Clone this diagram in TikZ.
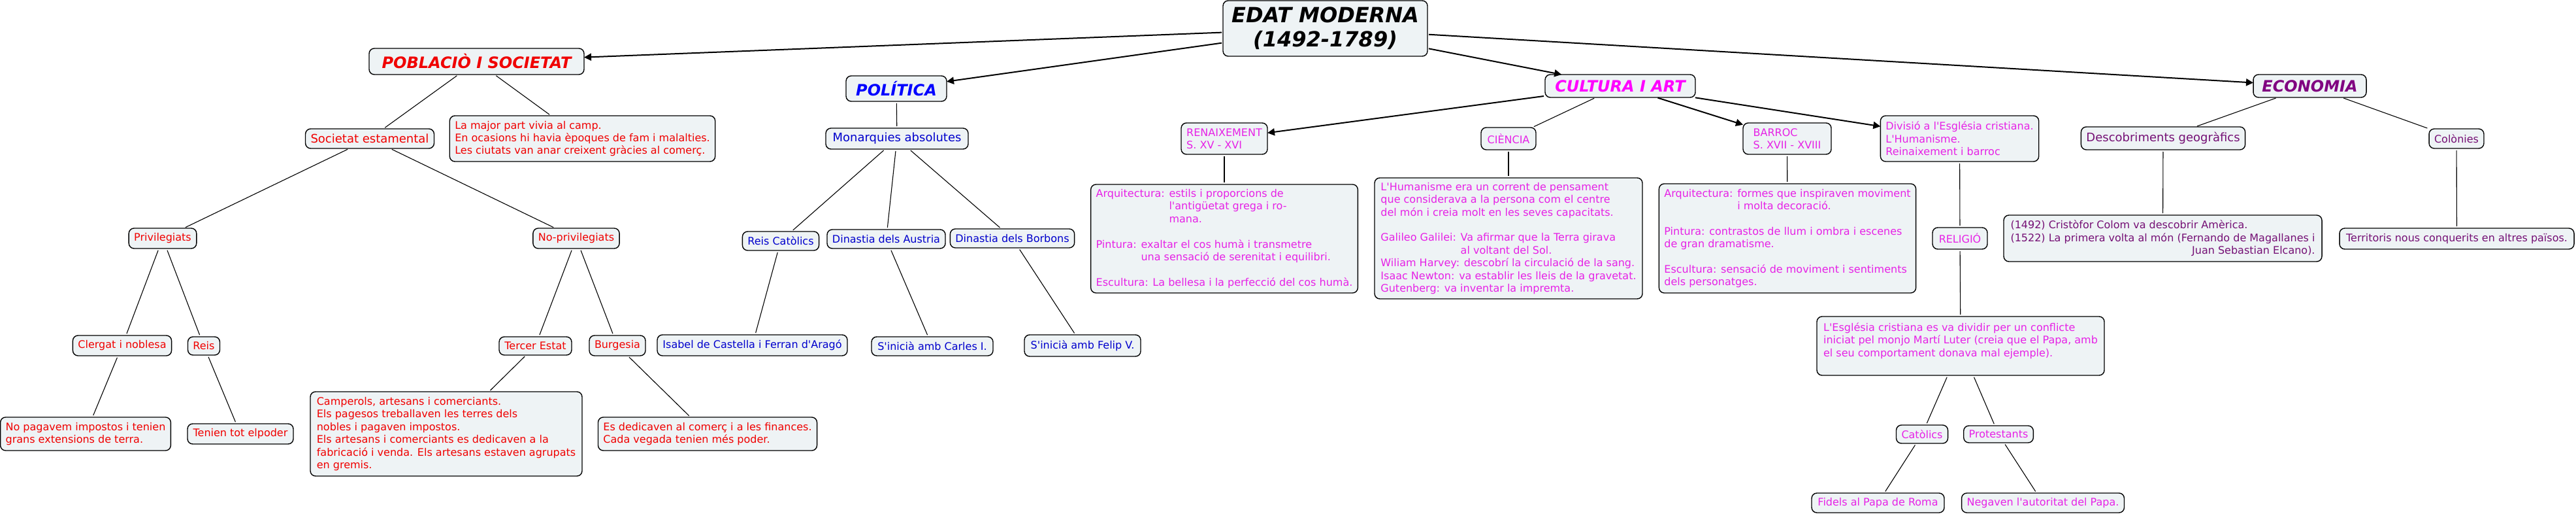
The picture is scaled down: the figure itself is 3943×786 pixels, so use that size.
\documentclass[tikz,border=0pt]{standalone}
\usepackage{fontspec}
\setmainfont{DejaVu Sans}[Ligatures=TeXOff]
\usetikzlibrary{arrows.meta}
\definecolor{boxfill}{HTML}{EEF3F5}
\definecolor{cred}{HTML}{F00000}
\definecolor{cblue}{HTML}{0000FF}
\definecolor{cblue2}{HTML}{0000CC}
\definecolor{cmag}{HTML}{FF00FF}
\definecolor{cmag2}{HTML}{E622E6}
\definecolor{cpur}{HTML}{800080}
\definecolor{cpur2}{HTML}{751075}
\begin{document}
\begin{tikzpicture}[x=0.5pt,y=-0.5pt,
 box/.style={draw=black,line width=0.7pt,fill=boxfill,rounded corners=4pt,inner xsep=4pt,inner ysep=0pt,outer sep=0pt},
 lab/.style={box,font=\fontsize{8}{9.7}\selectfont,align=center},
 biglab/.style={box,font=\fontsize{9}{11}\selectfont,align=center},
 para/.style={box,font=\fontsize{8}{9.7}\selectfont,align=left},
 ttl/.style={box,font=\fontsize{12}{14}\selectfont\bfseries\itshape},
 link/.style={line width=0.55pt,shorten <=1.5pt,shorten >=1.5pt},
 arr/.style={line width=1pt,shorten <=1pt,-{Triangle[length=5.5pt,width=5.5pt]}},
 sz/.style 2 args={minimum width=#1pt,minimum height=#2pt},
]
\fill[white] (0,0) rectangle (3943,786);
\useasboundingbox (0,0) rectangle (3943,786);

% titles
\node[ttl,sz={156.5}{42.5},font=\fontsize{16}{18.5}\selectfont\bfseries\itshape,align=center] (edat) at (2028.5,43.5) {EDAT MODERNA\\(1492-1789)};
\node[ttl,sz={164.5}{20},text=cred] (pob) at (729.5,94) {POBLACIÒ I SOCIETAT};
\node[ttl,sz={77}{19.5},text=cblue] (pol) at (1372,135.5) {POLÍTICA};
\node[ttl,sz={115}{17.5},text=cmag] (cult) at (2480,131.5) {CULTURA I ART};
\node[ttl,sz={86.5}{17.5},text=cpur] (eco) at (3535.5,131.5) {ECONOMIA};

% poblacio
\node[biglab,sz={98}{15},text=cred] (soc) at (566,212) {Societat estamental};
\node[para,sz={202.5}{35},text=cred] (major) at (891.5,212) {La major part vivia al camp.\\En ocasions hi havia èpoques de fam i malalties.\\Les ciutats van anar creixent gràcies al comerç.};
\node[lab,sz={51}{15.5},text=cred] (priv) at (249,364.5) {Privilegiats};
\node[lab,sz={66}{15.5},text=cred] (nopriv) at (882,364.5) {No-privilegiats};
\node[lab,sz={75}{15.5},text=cred] (clergat) at (187,528.5) {Clergat i noblesa};
\node[lab,sz={24}{14},text=cred] (reis) at (312,529) {Reis};
\node[lab,sz={55.5}{14},text=cred] (tercer) at (819.5,529) {Tercer Estat};
\node[lab,sz={42}{15.5},text=cred] (burg) at (945,528.5) {Burgesia};
\node[para,sz={130}{25.5},text=cred] (nopag) at (131,663.5) {No pagavem impostos i tenien\\grans extensions de terra.};
\node[lab,sz={81}{15.5},text=cred] (tenien) at (368,663.5) {Tenien tot elpoder};
\node[para,sz={208}{64.5},text=cred] (camp) at (683,663.5) {Camperols, artesans i comerciants.\\Els pagesos treballaven les terres dels\\nobles i pagaven impostos.\\Els artesans i comerciants es dedicaven a la\\fabricació i venda. Els artesans estaven agrupats\\en gremis.};
\node[para,sz={167}{25.5},text=cred] (burgch) at (1083,663.5) {Es dedicaven al comerç i a les finances.\\Cada vegada tenien més poder.};

% politica
\node[biglab,sz={109}{16},text=cblue2] (monarq) at (1373,212) {Monarquies absolutes};
\node[lab,sz={58}{14.5},text=cblue2] (reiscat) at (1195,368.5) {Reis Catòlics};
\node[lab,sz={89.5}{14.5},text=cblue2] (austria) at (1356.5,365.5) {Dinastia dels Austria};
\node[lab,sz={94.5}{14.5},text=cblue2] (borbons) at (1549.5,364.5) {Dinastia dels Borbons};
\node[lab,sz={145.5}{16},text=cblue2] (isabel) at (1151.5,528) {Isabel de Castella i Ferran d'Aragó};
\node[lab,sz={93}{14.5},text=cblue2] (carles) at (1427,529.5) {S'inicià amb Carles I.};
\node[lab,sz={89}{16.5},text=cblue2] (felip) at (1657,528.5) {S'inicià amb Felip V.};

% cultura
\node[para,sz={66}{24},text=cmag2] (renaix) at (1874,212) {RENAIXEMENT\\S. XV - XVI};
\node[lab,sz={42}{17},text=cmag2] (ciencia) at (2309,212) {CIÈNCIA};
\node[para,sz={67.5}{24},text=cmag2] (barroc) at (2735.5,212) {BARROC\\S. XVII - XVIII};
\node[para,sz={120.5}{35},text=cmag2] (divisio) at (2999.5,212) {Divisió a l'Església cristiana.\\L'Humanisme.\\Reinaixement i barroc};
\node[para,sz={204}{83},text=cmag2] (rench) at (1874,365) {Arquitectura: estils i proporcions de\\\phantom{Arquitectura: }l'antigüetat grega i ro-\\\phantom{Arquitectura: }mana.\\[9.7pt]Pintura: exaltar el cos humà i transmetre\\\phantom{Pintura: }una sensació de serenitat i equilibri.\\[9.7pt]Escultura: La bellesa i la perfecció del cos humà.};
\node[para,sz={205}{92.5},text=cmag2] (cich) at (2309,364.5) {L'Humanisme era un corrent de pensament\\que considerava a la persona com el centre\\del món i creia molt en les seves capacitats.\\[9.7pt]Galileo Galilei: Va afirmar que la Terra girava\\\phantom{Galileo Galilei: }al voltant del Sol.\\Wiliam Harvey: descobrí la circulació de la sang.\\Isaac Newton: va establir les lleis de la gravetat.\\Gutenberg: va inventar la impremta.};
\node[para,sz={196}{83.5},text=cmag2] (barch) at (2736,364.5) {Arquitectura: formes que inspiraven moviment\\\phantom{Arquitectura: }i molta decoració.\\[9.7pt]Pintura: contrastos de llum i ombra i escenes\\de gran dramatisme.\\[9.7pt]Escultura: sensació de moviment i sentiments\\dels personatges.};
\node[lab,sz={42}{16.5},text=cmag2] (religio) at (3000,364.5) {RELIGIÓ};
\node[para,sz={220}{45},text=cmag2] (esgl) at (3001,529) {L'Església cristiana es va dividir per un conflicte\\iniciat pel monjo Martí Luter (creia que el Papa, amb\\el seu comportament donava mal ejemple).\\\mbox{}};
\node[lab,sz={39}{14},text=cmag2] (catolics) at (2942,664) {Catòlics};
\node[lab,sz={53}{13},text=cmag2] (protest) at (3059,664) {Protestants};
\node[lab,sz={101.5}{15},text=cmag2] (fidels) at (2874.5,769) {Fidels al Papa de Roma};
\node[lab,sz={124}{15},text=cmag2] (negaven) at (3127,769) {Negaven l'autoritat del Papa.};

% economia
\node[biglab,sz={124}{17.5},text=cpur2] (desc) at (3311,211.5) {Descobriments geogràfics};
\node[lab,sz={41}{15},text=cpur2] (colonies) at (3760,212) {Colònies};
\node[para,sz={243.5}{35.5},text=cpur2] (descch) at (3310.5,364.5) {(1492) Cristòfor Colom va descobrir Amèrica.\\(1522) La primera volta al món (Fernando de Magallanes i\\\hfill Juan Sebastian Elcano).};
\node[lab,sz={179.5}{16},text=cpur2] (territ) at (3760.5,365) {Territoris nous conquerits en altres països.};

% connectors
\draw[arr] (edat) -- (pob);
\draw[arr] (edat) -- (pol);
\draw[arr] (edat) -- (cult);
\draw[arr] (edat) -- (eco);
\draw[link] (pob) -- (soc);
\draw[link] (pob) -- (major);
\draw[link] (soc) -- (priv);
\draw[link] (soc) -- (nopriv);
\draw[link] (priv) -- (clergat);
\draw[link] (priv) -- (reis);
\draw[link] (clergat) -- (nopag);
\draw[link] (reis) -- (tenien);
\draw[link] (nopriv) -- (tercer);
\draw[link] (nopriv) -- (burg);
\draw[link] (tercer) -- (camp);
\draw[link] (burg) -- (burgch);
\draw[link] (pol) -- (monarq);
\draw[link] (monarq) -- (reiscat);
\draw[link] (monarq) -- (austria);
\draw[link] (monarq) -- (borbons);
\draw[link] (reiscat) -- (isabel);
\draw[link] (austria) -- (carles);
\draw[link] (borbons) -- (felip);
\draw[arr] (cult) -- (renaix);
\draw[link] (cult) -- (ciencia);
\draw[arr] (cult) -- (barroc);
\draw[arr] (cult) -- (divisio);
\draw[link] (renaix) -- (rench);
\draw[link] (ciencia) -- (cich);
\draw[link] (barroc) -- (barch);
\draw[link] (divisio) -- (religio);
\draw[link] (religio) -- (esgl);
\draw[link] (esgl) -- (catolics);
\draw[link] (esgl) -- (protest);
\draw[link] (catolics) -- (fidels);
\draw[link] (protest) -- (negaven);
\draw[link] (eco) -- (desc);
\draw[link] (eco) -- (colonies);
\draw[link] (desc) -- (descch);
\draw[link] (colonies) -- (territ);
\end{tikzpicture}
\end{document}
